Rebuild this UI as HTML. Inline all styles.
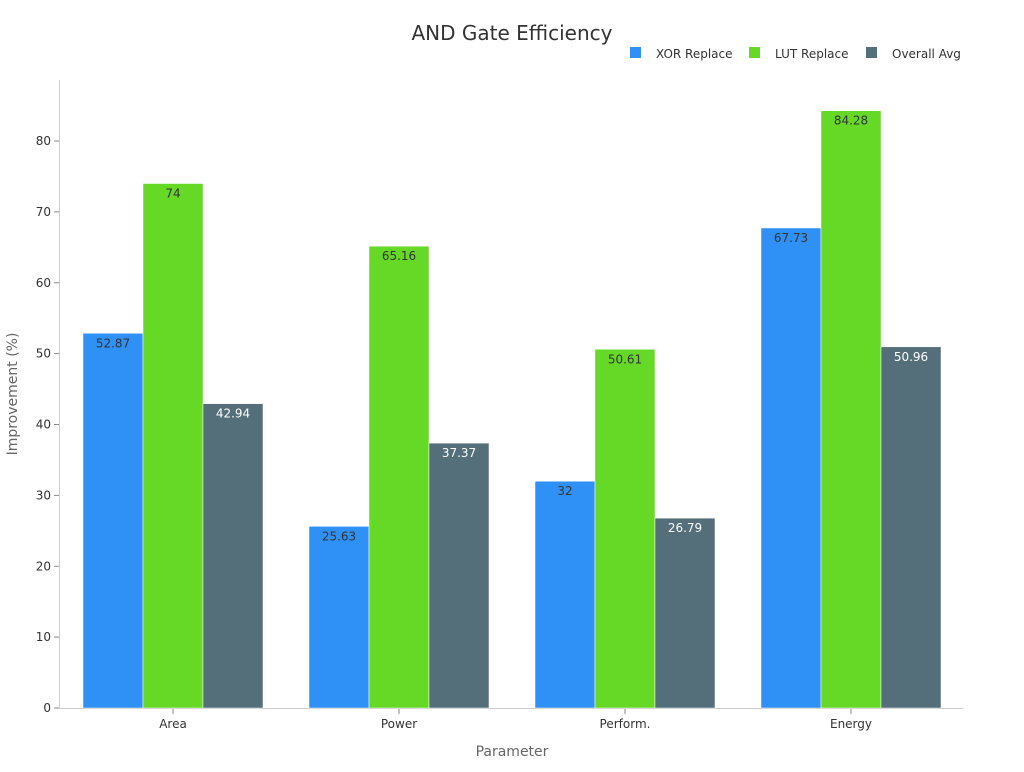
<!DOCTYPE html>
<html><head><meta charset="utf-8"><style>
body{margin:0;background:#fff;font-family:"DejaVu Sans","Liberation Sans",sans-serif}
</style></head><body>
<svg id="c" width="1024" height="768" xmlns="http://www.w3.org/2000/svg"></svg>
<script>
const categories=["Area","Power","Perform.","Energy"];
const xorValues=[52.87,25.63,32,67.73];
const lutValues=[74,65.16,50.61,84.28];
const avgValues=[42.94,37.37,26.79,50.96];
const yTicks=[0,10,20,30,40,50,60,70,80];
const seriesNames=["XOR Replace","LUT Replace","Overall Avg"];
const colors=["#2f91f5","#66d926","#546e7a"];
const labelColors=["#333","#333","#fff"];
const svg=document.getElementById('c');
const NS="http://www.w3.org/2000/svg";
function y(v){return 708-v*(567/80);}
function xc(i){return 173+i*226;}
function mk(t,a,txt){const e=document.createElementNS(NS,t);for(const k in a)e.setAttribute(k,a[k]);if(txt!==undefined)e.textContent=txt;svg.appendChild(e);return e;}
let e=mk('text',{x:512,y:40,'text-anchor':'middle','font-size':20,fill:'#333'},'AND Gate Efficiency');

e=mk('line',{x1:59.5,y1:80,x2:59.5,y2:708,stroke:'#ccc'});

e=mk('line',{x1:59,y1:708.5,x2:963,y2:708.5,stroke:'#ccc'});

yTicks.forEach(t=>{
 const l=mk('line',{x1:54,x2:59,y1:y(t),y2:y(t),stroke:'#888'});
 
 const tx=mk('text',{x:51,y:y(t)+4,'text-anchor':'end','font-size':12,fill:'#333'},t);
 
});
const series=[xorValues,lutValues,avgValues];
categories.forEach((c,i)=>{
 const l=mk('line',{x1:xc(i),x2:xc(i),y1:709,y2:714,stroke:'#888'});
 
 const tx=mk('text',{x:xc(i),y:728,'text-anchor':'middle','font-size':12,fill:'#333'},c);
 
 series.forEach((s,j)=>{
  const x0=xc(i)-90+j*60;
  const r=mk('rect',{x:x0,y:y(s[i]),width:60,height:708-y(s[i]),fill:colors[j],stroke:'#fff','stroke-width':0.5});
  
  
  const v=mk('text',{x:x0+30,y:y(s[i])+14,'text-anchor':'middle','font-size':12,fill:labelColors[j]},s[i]);
  
 });
});
e=mk('text',{x:512,y:756,'text-anchor':'middle','font-size':14,fill:'#666'},'Parameter');

e=mk('text',{x:17,y:394,'text-anchor':'middle','font-size':14,fill:'#666',transform:'rotate(-90 17 394)'},'Improvement (%)');

const lx=[630,749,866];
seriesNames.forEach((n,j)=>{
 const r=mk('rect',{x:lx[j],y:47,width:11,height:11,fill:colors[j]});
 
 const t=mk('text',{x:lx[j]+26,y:58,'font-size':12,fill:'#333'},n);
 
});
</script>
</body></html>
